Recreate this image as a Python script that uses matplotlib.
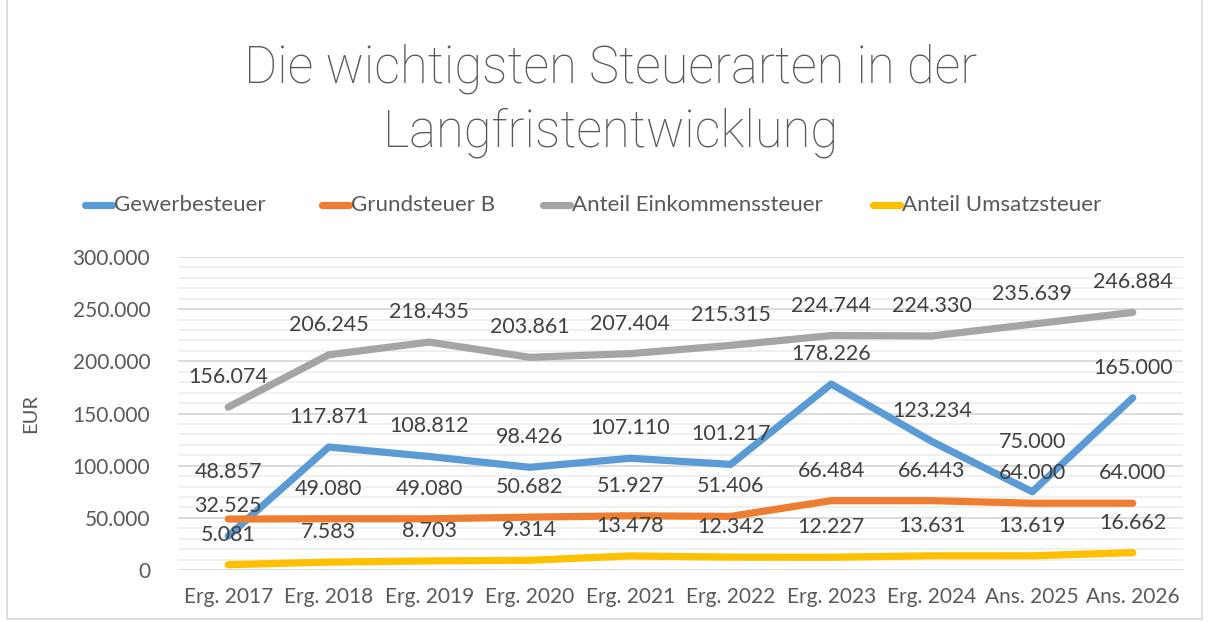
import matplotlib.pyplot as plt
from matplotlib.ticker import FuncFormatter, MultipleLocator
from matplotlib.patches import Rectangle
from matplotlib.lines import Line2D

# Daten
categories = ["Erg. 2017", "Erg. 2018", "Erg. 2019", "Erg. 2020", "Erg. 2021",
              "Erg. 2022", "Erg. 2023", "Erg. 2024", "Ans. 2025", "Ans. 2026"]
gewerbesteuer = [32525, 117871, 108812, 98426, 107110, 101217, 178226, 123234, 75000, 165000]
grundsteuer_b = [48857, 49080, 49080, 50682, 51927, 51406, 66484, 66443, 64000, 64000]
einkommensteuer = [156074, 206245, 218435, 203861, 207404, 215315, 224744, 224330, 235639, 246884]
umsatzsteuer = [5081, 7583, 8703, 9314, 13478, 12342, 12227, 13631, 13619, 16662]

series = [
    ("Gewerbesteuer", gewerbesteuer, "#5b9bd5"),
    ("Grundsteuer B", grundsteuer_b, "#ed7d31"),
    ("Anteil Einkommenssteuer", einkommensteuer, "#a5a5a5"),
    ("Anteil Umsatzsteuer", umsatzsteuer, "#ffc000"),
]

plt.rcParams['font.family'] = ['Lato', 'DejaVu Sans']
txt = "#595959"


def de_format(v, pos=None):
    return f"{int(round(v)):,}".replace(",", ".")


fig = plt.figure(figsize=(12.09, 6.22), dpi=100)
ax = fig.add_axes([0.1472, 0.0836, 0.8313, 0.5032])

x = list(range(len(categories)))
for name, vals, col in series:
    ax.plot(x, vals, color=col, lw=5.2, solid_capstyle='round',
            solid_joinstyle='round', label=name)

# Datenbeschriftungen oberhalb der Punkte (Excel verschiebt zwei davon)
shifted = {("Gewerbesteuer", 8): 50, ("Grundsteuer B", 0): 47}
for name, vals, col in series:
    for xi, v in zip(x, vals):
        dy = shifted.get((name, xi), 30)
        ax.annotate(de_format(v), (xi, v), xytext=(0, dy), textcoords='offset pixels',
                    ha='center', va='center', fontsize=15.5, color="#404040", zorder=5)

ax.set_xlim(-0.5, len(categories) - 0.5)
ax.set_ylim(0, 300000)
ax.yaxis.set_major_locator(MultipleLocator(50000))
ax.yaxis.set_minor_locator(MultipleLocator(10000))
ax.yaxis.set_major_formatter(FuncFormatter(de_format))
ax.grid(axis='y', which='major', color="#d9d9d9", lw=1.3)
ax.grid(axis='y', which='minor', color="#efefef", lw=1.3)
ax.set_axisbelow(True)
for s in ax.spines.values():
    s.set_visible(False)
ax.tick_params(axis='both', which='both', length=0, colors=txt, labelsize=15)
ax.tick_params(axis='y', pad=20)
ax.tick_params(axis='x', pad=12)
ax.set_xticks(x)
ax.set_xticklabels(categories)
ax.set_ylabel("EUR", color=txt, fontsize=14.5, labelpad=24)

fig.text(0.505, 0.838, "Die wichtigsten Steuerarten in der\nLangfristentwicklung",
         ha='center', va='center', fontsize=36.5, color=txt, linespacing=1.33,
         family=['Roboto', 'Lato'], fontweight='light')

# Legende manuell (Excel-Abstaende)
leg_y = 1 - 205 / 622
leg_x = [85, 322, 543, 873]
for (name, vals, col), px in zip(series, leg_x):
    x0 = px / 1209
    fig.add_artist(Line2D([x0, x0 + 27 / 1209], [leg_y, leg_y], color=col, lw=5.2,
                          solid_capstyle='round', transform=fig.transFigure))
    fig.text(x0 + 29 / 1209, leg_y, name, ha='left', va='center', fontsize=16, color=txt)

# Rahmen des Diagrammbereichs
fig.patches.append(Rectangle((0.006, 0.005), 0.988, 1.2, transform=fig.transFigure,
                             fill=False, edgecolor="#d9d9d9", lw=1.2))

fig.savefig("out.png", dpi=100)
